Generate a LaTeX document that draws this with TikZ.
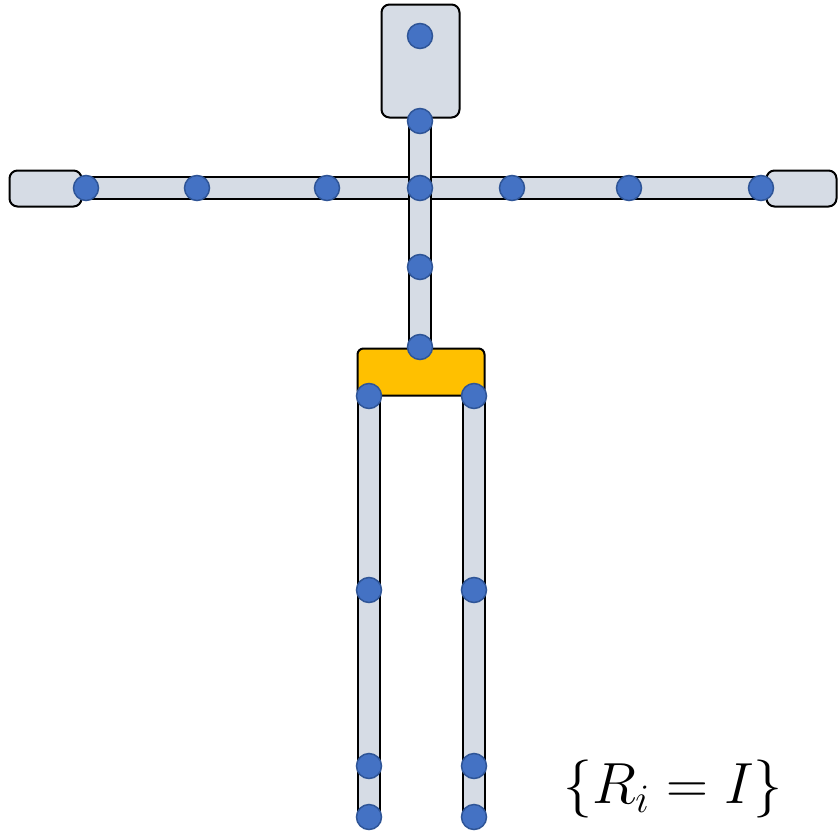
\documentclass[tikz,border=0pt]{standalone}
\usepackage{amsmath}
\usepackage{tikz}
\usetikzlibrary{positioning, backgrounds}
\definecolor{limbgray}{RGB}{214,220,229}
\definecolor{pelvisgold}{RGB}{255,192,0}
\definecolor{jointblue}{RGB}{68,114,196}
\definecolor{jointedge}{RGB}{47,85,151}

\begin{document}
\begin{tikzpicture}[
    x=1pt, y=-1pt,
    joint/.style={circle, fill=jointblue, draw=jointedge, line width=1.5pt,
                  minimum size=25pt, inner sep=0pt},
    limb/.style={draw=black, line width=2pt, double=limbgray,
                 double distance=20pt},
    part/.style={draw=black, line width=2pt, fill=limbgray,
                 rounded corners=8pt, inner sep=0pt},
    hip/.style={part, fill=pelvisgold, rounded corners=6pt}
  ]
  \useasboundingbox (0,0) rectangle (838,833);
  % joints
  \node[joint] (head) at (420,36) {};
  \node[joint] (neck) at (420,121) {};
  \node[joint] (chest) at (420,188) {};
  \node[joint] (spine) at (420,267) {};
  \node[joint] (root) at (420,347) {};
  \node[joint] (lhand) at (86,188) {};
  \node[joint] (lelbow) at (197,188) {};
  \node[joint] (lshoulder) at (327,188) {};
  \node[joint] (rshoulder) at (512,188) {};
  \node[joint] (relbow) at (629,188) {};
  \node[joint] (rhand) at (761,188) {};
  \node[joint] (lhip) at (369,396) {};
  \node[joint] (rhip) at (474,396) {};
  \node[joint] (lknee) at (369,590) {};
  \node[joint] (rknee) at (474,590) {};
  \node[joint] (lankle) at (369,766) {};
  \node[joint] (rankle) at (474,766) {};
  \node[joint] (lfoot) at (369,817) {};
  \node[joint] (rfoot) at (474,817) {};
  \begin{scope}[on background layer]
    % limbs
    \draw[limb] (lhand.center) -- (lelbow.center) -- (lshoulder.center)
      -- (chest.center) -- (rshoulder.center) -- (relbow.center)
      -- (rhand.center);
    \draw[limb] (neck.center) -- (chest.center) -- (spine.center)
      -- (root.center);
    \draw[limb] (lhip.center) -- (lknee.center) -- (lankle.center)
      -- (lfoot.center);
    \draw[limb] (rhip.center) -- (rknee.center) -- (rankle.center)
      -- (rfoot.center);
    % body parts
    \node[part, minimum width=78pt, minimum height=113pt] (skull)
      at (420.5,61) {};
    \node[part, minimum width=72pt, minimum height=36pt] (lpalm)
      at (45.5,188.5) {};
    \node[part, minimum width=70pt, minimum height=36pt] (rpalm)
      at (801.5,188.5) {};
    \node[hip, minimum width=127pt, minimum height=47pt] (pelvis)
      at (421,372) {};
  \end{scope}
  \node[scale=2.8] (rest) at (673,789) {\huge $\{R_i = I\}$};
\end{tikzpicture}
\end{document}
